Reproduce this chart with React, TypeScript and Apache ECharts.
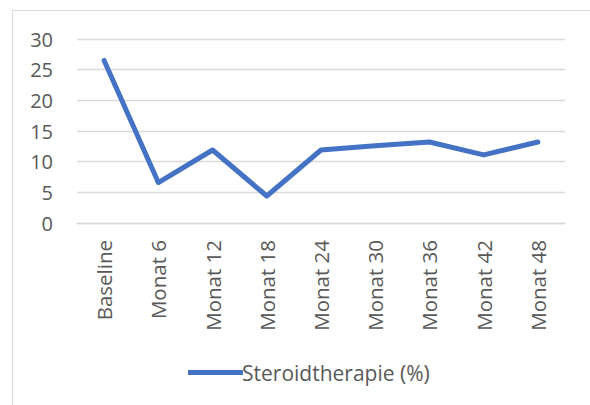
import React, { useEffect, useRef } from "react";
import * as echarts from "echarts";

const categories = ["Baseline", "Monat 6", "Monat 12", "Monat 18", "Monat 24", "Monat 30", "Monat 36", "Monat 42", "Monat 48"];
const steroidValues = [26.5, 6.6, 11.9, 4.4, 11.9, 12.6, 13.2, 11.1, 13.2];
const seriesName = "Steroidtherapie (%)";

export default function App() {
  const ref = useRef<HTMLDivElement>(null);
  useEffect(() => {
    if (!ref.current) return;
    const chart = echarts.init(ref.current, null, { renderer: "svg" });
    const font = "'Open Sans', Lato, sans-serif";
    chart.setOption({
      animation: false,
      backgroundColor: "#ffffff",
      textStyle: { fontFamily: font },
      graphic: [
        {
          type: "rect",
          shape: { x: 12.5, y: 10.5, width: 600, height: 420 },
          style: { fill: "none", stroke: "#d9d9d9", lineWidth: 1 },
          silent: true,
        },
      ],
      grid: { left: 77, right: 25, top: 39, bottom: 182, containLabel: false },
      xAxis: {
        type: "category",
        data: categories,
        boundaryGap: true,
        axisLine: { show: true, lineStyle: { color: "#d9d9d9", width: 1.3 } },
        axisTick: { show: false },
        axisLabel: { rotate: 90, color: "#595959", fontSize: 20.5, fontFamily: font, margin: 17 },
      },
      yAxis: {
        type: "value",
        min: 0,
        max: 30,
        interval: 5,
        axisLine: { show: false },
        axisTick: { show: false },
        splitLine: { lineStyle: { color: "#d9d9d9", width: 1.3 } },
        axisLabel: { color: "#595959", fontSize: 20, fontFamily: font, margin: 24 },
      },
      legend: {
        bottom: 17,
        left: 183,
        itemWidth: 55,
        itemHeight: 5,
        itemGap: 10,
        icon: "path://M0,0 L55,0 L55,5 L0,5 Z",
        textStyle: { color: "#595959", fontSize: 21, fontFamily: font, padding: [0, 0, 0, -6] },
        data: [{ name: seriesName }],
      },
      series: [
        {
          name: seriesName,
          type: "line",
          data: steroidValues,
          symbol: "none",
          lineStyle: { color: "#4472C4", width: 5, cap: "round", join: "round" },
          itemStyle: { color: "#4472C4" },
        },
      ],
    });
    return () => chart.dispose();
  }, []);
  return (
    <div
      ref={ref}
      style={{ position: "absolute", left: 0, top: 0, width: 590, height: 405 }}
    />
  );
}
